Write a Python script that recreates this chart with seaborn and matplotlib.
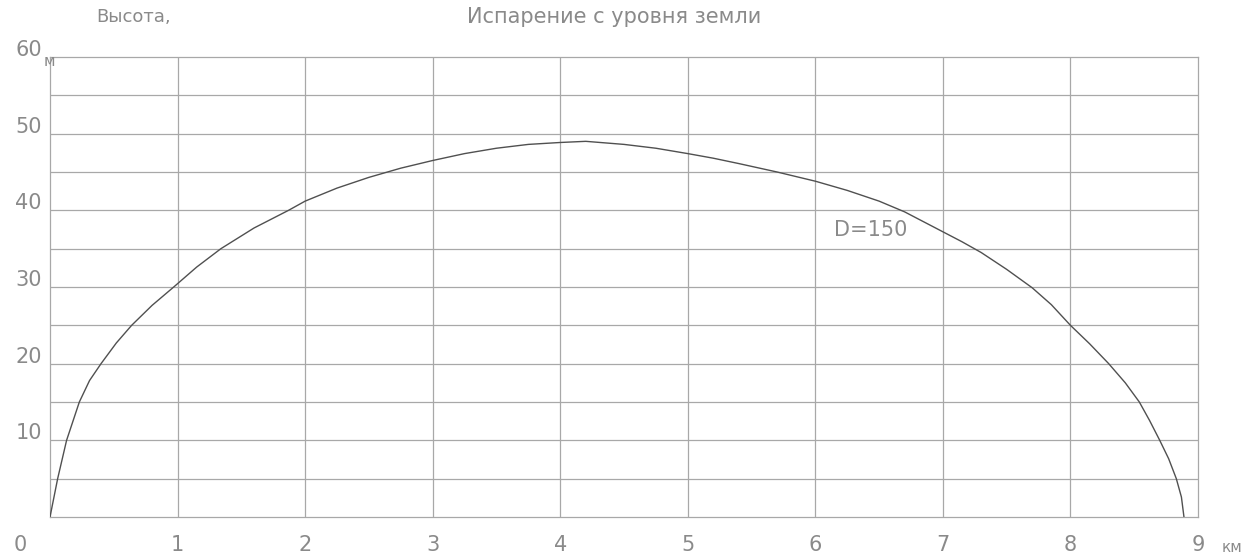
import matplotlib
matplotlib.use("Agg")
import matplotlib.pyplot as plt
import matplotlib.transforms as mtransforms
import seaborn as sns

# данные кривой (км, м)
dist_km = [0.0, 0.03, 0.06, 0.13, 0.23, 0.31, 0.40, 0.52, 0.64, 0.80, 0.97, 1.15,
           1.34, 1.60, 1.87, 2.0, 2.25, 2.5, 2.75, 3.0, 3.25, 3.5, 3.75, 4.0,
           4.2, 4.5, 4.75, 5.0, 5.2, 5.4, 5.7, 6.0, 6.25, 6.5, 6.7, 7.0, 7.15,
           7.3, 7.5, 7.7, 7.85, 8.0, 8.15, 8.3, 8.43, 8.54, 8.62, 8.70, 8.77,
           8.83, 8.87, 8.89]
height_m = [0, 2.5, 5, 10, 15, 17.8, 20, 22.7, 25, 27.6, 30, 32.6,
            35, 37.7, 40, 41.2, 42.9, 44.3, 45.5, 46.5, 47.4, 48.1, 48.6, 48.85,
            49.0, 48.6, 48.1, 47.4, 46.8, 46.1, 45.0, 43.8, 42.6, 41.2, 39.8, 37.2, 35.9,
            34.5, 32.3, 29.9, 27.7, 25.0, 22.6, 20.0, 17.5, 15.0, 12.6, 10.0, 7.6,
            5.0, 2.6, 0]

x_ticks = [1, 2, 3, 4, 5, 6, 7, 8, 9]
y_ticks = [10, 20, 30, 40, 50, 60]
grid_y = [5, 10, 15, 20, 25, 30, 35, 40, 45, 50, 55]
grid_x = [1, 2, 3, 4, 5, 6, 7, 8]

title = "Испарение с уровня земли"
y_title = "Высота,"
curve_label = "D=150"

sns.set_theme(style="white")
plt.rcParams['font.family'] = ['DejaVu Sans']

txt = '#8a8a8a'
grid_c = '#a8a8a8'

fig = plt.figure(figsize=(12.52, 5.53), dpi=100)
ax = fig.add_axes([50 / 1252, 1 - 517 / 553, 1148 / 1252, 460 / 553])
ax.set_xlim(0, 9)
ax.set_ylim(0, 60)

for gx in grid_x:
    ax.axvline(gx, color=grid_c, lw=0.9, zorder=1)
for gy in grid_y:
    ax.axhline(gy, color=grid_c, lw=0.9, zorder=1)
for s in ax.spines.values():
    s.set_color(grid_c)
    s.set_linewidth(0.9)
ax.set_xticks([])
ax.set_yticks([])

sns.lineplot(x=dist_km, y=height_m, sort=False, color='#505050', linewidth=1.0, ax=ax, zorder=3)
ax.set_xlabel('')
ax.set_ylabel('')

# подписи осей
xtrans = mtransforms.blended_transform_factory(ax.transData, fig.transFigure)
for v in x_ticks:
    ax.text(v, 1 - 545 / 553, str(v), transform=xtrans, ha='center', va='center',
            fontsize=15, color=txt)
ax.text(20 / 1252, 1 - 545 / 553, "0", transform=fig.transFigure, ha='center', va='center',
        fontsize=15, color=txt)
ax.text(1232 / 1252, 1 - 547 / 553, "км", transform=fig.transFigure, ha='center', va='center',
        fontsize=11, color=txt)

ytrans = mtransforms.blended_transform_factory(fig.transFigure, ax.transData)
off = mtransforms.ScaledTranslation(0, 0.07, fig.dpi_scale_trans)
for v in y_ticks:
    ax.text(42 / 1252, v, str(v), transform=ytrans + off, ha='right', va='center',
            fontsize=15, color=txt)
ax.text(44 / 1252, 1 - 62 / 553, "м", transform=fig.transFigure, ha='left', va='center',
        fontsize=11, color=txt)

fig.text(96 / 1252, 1 - 17 / 553, y_title, ha='left', va='center', fontsize=13, color=txt)
fig.text(614 / 1252, 1 - 17 / 553, title, ha='center', va='center', fontsize=15, color=txt)
ax.text(6.15, 37.4, curve_label, ha='left', va='center', fontsize=15, color=txt, zorder=4)

fig.savefig("out.png", dpi=100)
